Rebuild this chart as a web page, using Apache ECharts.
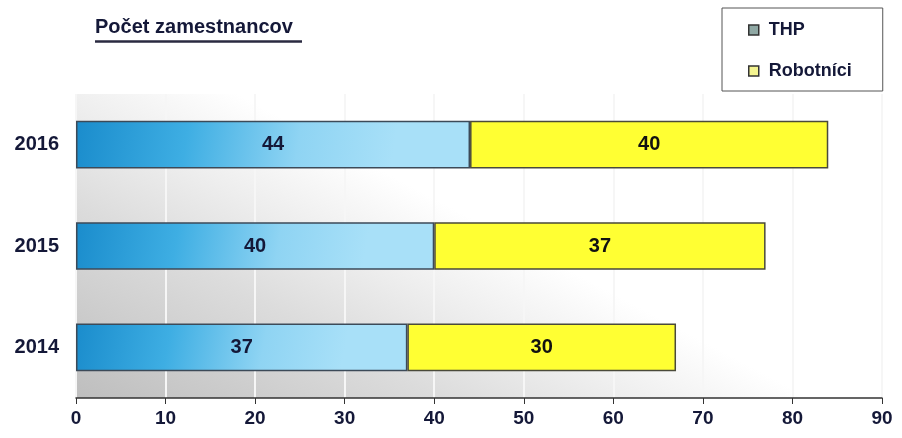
<!DOCTYPE html>
<html>
<head>
<meta charset="utf-8">
<script src="https://cdn.jsdelivr.net/npm/echarts@6/dist/echarts.min.js"></script>
<style>
  html, body { margin: 0; padding: 0; background: #fff; }
  #chart { width: 902px; height: 438px; }
</style>
</head>
<body>
<div id="chart"></div>
<script>
// data
var years = ['2014', '2015', '2016'];
var thp = [37, 40, 44];
var robotnici = [30, 37, 40];
var xTicks = { min: 0, max: 90, interval: 10 };

var navy = '#141838';
var font = '"Liberation Sans", Arial, sans-serif';

var chart = echarts.init(document.getElementById('chart'));

var option = {
  backgroundColor: '#fff',
  title: {
    text: 'Počet zamestnancov',
    left: 95,
    top: 17,
    padding: 0,
    textStyle: { fontFamily: font, fontSize: 20, fontWeight: 'bold', color: navy }
  },
  graphic: [
    { // underline of title
      type: 'line',
      shape: { x1: 95, y1: 41.5, x2: 302, y2: 41.5 },
      style: { stroke: '#2a2a40', lineWidth: 2.5 }
    }
  ],
  legend: {
    orient: 'vertical',
    left: 722,
    top: 8,
    padding: [13, 31, 11, 26],
    itemGap: 23,
    itemWidth: 10,
    itemHeight: 10,
    icon: 'rect',
    borderColor: '#555',
    borderWidth: 1,
    textStyle: { fontFamily: font, fontSize: 18, fontWeight: 'bold', color: navy, padding: [0, 0, 0, 5] },
    data: [
      { name: 'THP', itemStyle: { color: '#8fa8a4', borderColor: '#333', borderWidth: 1.5 } },
      { name: 'Robotníci', itemStyle: { color: '#f4f490', borderColor: '#333', borderWidth: 1.5 } }
    ]
  },
  grid: {
    left: 76,
    right: 20,
    top: 94,
    bottom: 40,
    show: true,
    borderWidth: 0,
    backgroundColor: {
      type: 'linear', x: 0, y: 1, x2: 0.2, y2: 0,
      colorStops: [
        { offset: 0, color: '#bebebe' },
        { offset: 0.25, color: '#cdcdcd' },
        { offset: 0.5, color: '#dcdcdc' },
        { offset: 0.75, color: '#eeeeee' },
        { offset: 1, color: '#ffffff' }
      ]
    }
  },
  xAxis: {
    type: 'value',
    min: xTicks.min,
    max: xTicks.max,
    interval: xTicks.interval,
    axisLine: { show: true, lineStyle: { color: '#333', width: 1.5 } },
    axisTick: { show: true, length: 6, lineStyle: { color: '#333' } },
    splitLine: { show: true, lineStyle: { color: '#f6f6f6', width: 2 } },
    axisLabel: { fontFamily: font, fontSize: 19, fontWeight: 'bold', color: navy, margin: 11 }
  },
  yAxis: {
    type: 'category',
    data: years,
    axisLine: { show: false },
    axisTick: { show: false },
    axisLabel: { fontFamily: font, fontSize: 20, fontWeight: 'bold', color: navy, margin: 17 }
  },
  series: [
    {
      name: 'THP',
      type: 'bar',
      stack: 'total',
      barWidth: '47%',
      data: thp,
      itemStyle: {
        color: {
          type: 'linear', x: 0, y: 0, x2: 0.8, y2: 1,
          colorStops: [
            { offset: 0, color: '#1a8ccc' },
            { offset: 0.35, color: '#3eaee3' },
            { offset: 0.7, color: '#8fd4f3' },
            { offset: 1, color: '#a8e0f8' }
          ]
        },
        borderColor: '#3c4a58',
        borderWidth: 1.5
      },
      label: {
        show: true,
        position: 'inside',
        fontFamily: font, fontSize: 20, fontWeight: 'bold', color: navy
      }
    },
    {
      name: 'Robotníci',
      type: 'bar',
      stack: 'total',
      data: robotnici,
      itemStyle: { color: '#ffff33', borderColor: '#4a4a3a', borderWidth: 1.5 },
      label: {
        show: true,
        position: 'inside',
        fontFamily: font, fontSize: 20, fontWeight: 'bold', color: '#111'
      }
    }
  ]
};

chart.setOption(option);
</script>
</body>
</html>
